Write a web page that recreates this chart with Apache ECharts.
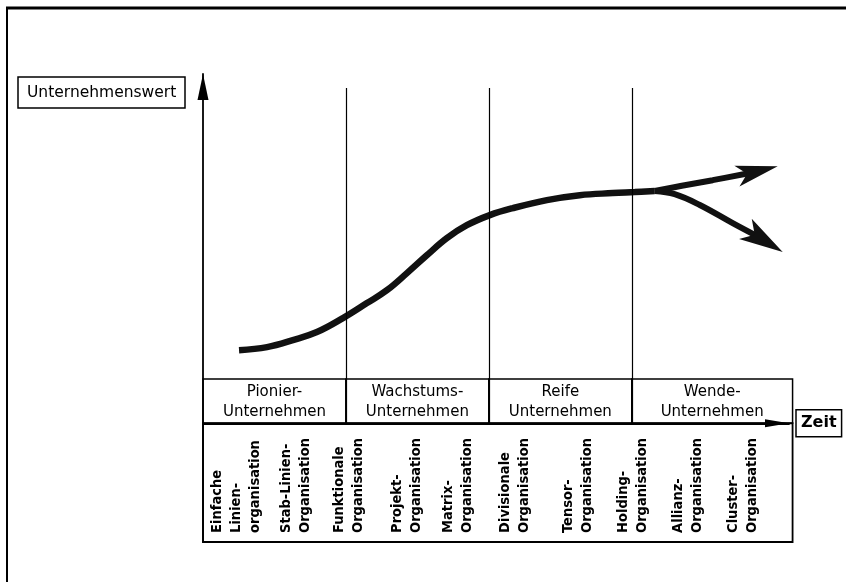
<!DOCTYPE html>
<html><head><meta charset="utf-8">
<script src="https://cdn.jsdelivr.net/npm/echarts@6/dist/echarts.min.js"></script>
<style>html,body{margin:0;padding:0;background:#fff}#c{width:846px;height:582px}</style>
</head><body><div id="c"></div>
<script>
// ---- texts ----
const yAxisName = 'Unternehmenswert';
const xAxisName = 'Zeit';
const phaseNames = ['Pionier-\nUnternehmen', 'Wachstums-\nUnternehmen', 'Reife\nUnternehmen', 'Wende-\nUnternehmen'];
const orgNames = ['Einfache\nLinien-\norganisation', 'Stab-Linien-\nOrganisation', 'Funktionale\nOrganisation',
  'Projekt-\nOrganisation', 'Matrix-\nOrganisation', 'Divisionale\nOrganisation', 'Tensor-\nOrganisation',
  'Holding-\nOrganisation', 'Allianz-\nOrganisation', 'Cluster-\nOrganisation'];
// ---- time axis (1 unit = 1 phase) ----
const phaseStart = [0, 1, 2, 3];
const phaseEnd = [1, 2, 3, 4.125];
const dividerTime = [1, 2, 3];
const orgTime = [0.234, 0.650, 1.021, 1.427, 1.783, 2.182, 2.619, 3.007, 3.392, 3.776];
// ---- value axis ----
const valueMin = -34, valueMax = 100, timeMax = 4.1;
const headerTop = 12.67, dividerTop = 96, orgBase = -31.4;
// ---- curve ----
const trunkTime = [0.252, 0.448, 0.629, 0.797, 0.979, 1.147, 1.287, 1.427, 1.566, 1.706, 1.846, 2.007, 2.168, 2.406, 2.636, 2.867, 3.021, 3.16];
const trunkValue = [20.9, 21.8, 23.8, 26.1, 30.1, 34.4, 38.1, 43.0, 48.1, 53.0, 56.7, 59.6, 61.6, 63.9, 65.3, 65.9, 66.2, 66.5];
const upTime = [3.16, 3.35, 3.566, 3.827, 4.021];
const upValue = [66.5, 68.0, 69.6, 71.65, 73.6];
const downTime = [3.16, 3.30, 3.476, 3.706, 3.876, 4.056];
const downValue = [66.5, 65.6, 62.5, 57.3, 53.6, 49.0];

const FONT = '"DejaVu Sans", sans-serif';
const FONT_C = '"DejaVu Sans Condensed", "DejaVu Sans", sans-serif';
const zip = (a, b) => a.map((v, i) => [v, b[i]]);
function branch(t, v, w, arrowSize) {
  const n = t.length;
  return {
    type: 'line', data: zip(t.slice(0, n - 1), v.slice(0, n - 1)), smooth: 0.4, showSymbol: false, silent: true,
    lineStyle: { color: '#111', width: w },
    markLine: {
      silent: true, symbol: ['none', 'arrow'], symbolSize: arrowSize,
      label: { show: false }, lineStyle: { color: '#111', width: 0, type: 'solid' },
      data: [[{ coord: [t[n - 2], v[n - 2]] }, { coord: [t[n - 1], v[n - 1]] }]]
    }
  };
}

const chart = echarts.init(document.getElementById('c'), null, { renderer: 'canvas' });
chart.setOption({
  animation: false,
  backgroundColor: '#fff',
  title: {
    text: yAxisName, left: 18, top: 77, padding: [8, 9, 7, 9], borderColor: '#000', borderWidth: 1.5,
    textStyle: { fontFamily: FONT, fontSize: 15.5, fontWeight: 'normal', color: '#000' }
  },
  graphic: [
    { type: 'line', shape: { x1: 6, y1: 8, x2: 846, y2: 8 }, style: { stroke: '#000', lineWidth: 3 } },
    { type: 'line', shape: { x1: 7, y1: 8, x2: 7, y2: 582 }, style: { stroke: '#000', lineWidth: 2 } }
  ],
  grid: { left: 203, right: 57, top: 74, bottom: 40 },
  xAxis: {
    type: 'value', min: 0, max: timeMax,
    axisLine: { onZero: true, lineStyle: { color: '#000', width: 1.8 }, symbol: ['none', 'triangle'], symbolSize: [8, 24], symbolOffset: [0, -12] },
    axisTick: { show: false }, axisLabel: { show: false }, splitLine: { show: false },
    name: xAxisName, nameLocation: 'end', nameGap: 7,
    nameTextStyle: { fontFamily: FONT, fontSize: 16, fontWeight: 'bold', color: '#000', borderColor: '#000', borderWidth: 1.5, padding: [6, 5, 5, 5] }
  },
  yAxis: {
    type: 'value', min: valueMin, max: valueMax,
    axisLine: { lineStyle: { color: '#000', width: 1.8 }, symbol: ['none', 'triangle'], symbolSize: [11, 26], symbolOffset: [0, -13] },
    axisTick: { show: false }, axisLabel: { show: false }, splitLine: { show: false }
  },
  series: [
    {
      type: 'line', data: zip(trunkTime, trunkValue), smooth: 0.4, showSymbol: false, silent: true,
      lineStyle: { color: '#111', width: 6.5 },
      markLine: {
        silent: true, symbol: 'none', label: { show: false },
        lineStyle: { color: '#000', width: 1.2, type: 'solid' },
        data: dividerTime.map(t => [{ coord: [t, 0] }, { coord: [t, dividerTop] }])
      }
    },
    branch(upTime, upValue, 6, [16, 42]),
    branch(downTime, downValue, 6, [18, 44]),
    {
      type: 'custom', clip: false, silent: true, encode: { x: [0, 1], y: 2 },
      data: phaseStart.map((s, i) => [s, phaseEnd[i], headerTop]),
      renderItem(params, api) {
        const i = params.dataIndex;
        const a = api.coord([api.value(0), api.value(2)]);
        const b = api.coord([api.value(1), 0]);
        return {
          type: 'group', children: [
            { type: 'rect', shape: { x: a[0], y: a[1], width: b[0] - a[0], height: b[1] - a[1] }, style: { fill: 'none', stroke: '#000', lineWidth: 1.5 } },
            { type: 'text', x: (a[0] + b[0]) / 2, y: (a[1] + b[1]) / 2 + 1, style: { text: phaseNames[i], align: 'center', verticalAlign: 'middle', font: '15px ' + FONT, lineHeight: 20, fill: '#000' } }
          ]
        };
      }
    },
    {
      type: 'custom', clip: false, silent: true, encode: { x: [0, 1], y: 2 },
      data: [[phaseStart[0], phaseEnd[phaseEnd.length - 1], valueMin]],
      renderItem(params, api) {
        const a = api.coord([api.value(0), 0]);
        const b = api.coord([api.value(1), api.value(2)]);
        return { type: 'rect', shape: { x: a[0], y: a[1], width: b[0] - a[0], height: b[1] - a[1] }, style: { fill: 'none', stroke: '#000', lineWidth: 1.8 } };
      }
    },
    {
      type: 'custom', clip: false, silent: true, encode: { x: 0, y: 1 },
      data: orgTime.map(t => [t, orgBase]),
      renderItem(params, api) {
        const p = api.coord([api.value(0), api.value(1)]);
        return {
          type: 'text', x: p[0], y: p[1], rotation: Math.PI / 2,
          style: { text: orgNames[params.dataIndex], align: 'left', verticalAlign: 'middle', font: 'bold 14.5px ' + FONT_C, lineHeight: 19, fill: '#000' }
        };
      }
    }
  ]
});
</script></body></html>
